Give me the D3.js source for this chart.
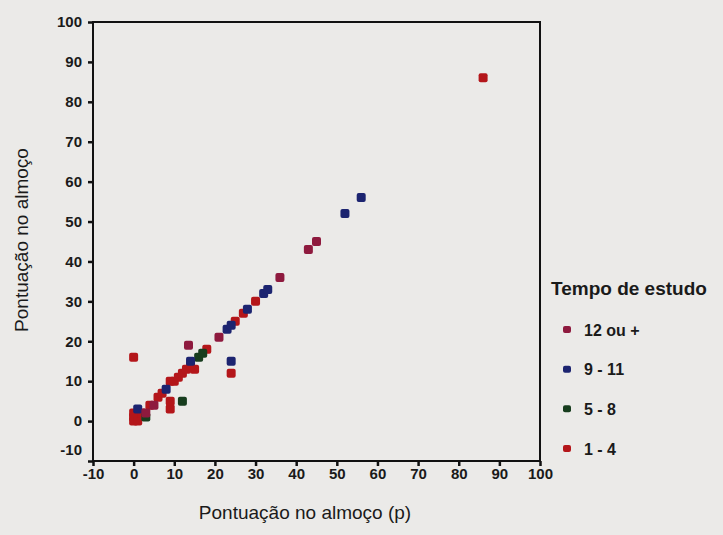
<!DOCTYPE html>
<html>
<head>
<meta charset="utf-8">
<script src="https://cdn.jsdelivr.net/npm/d3@7"></script>
<style>
  body { margin: 0; background: #ebeae8; }
  svg { display: block; font-family: "Liberation Sans", Arial, sans-serif; }
</style>
</head>
<body>
<div id="chart"></div>
<script>
// legend categories
const SERIES = ["12 ou +", "9 - 11", "5 - 8", "1 - 4"];
const COLORS = ["#8e1a3e", "#1c2470", "#173d1e", "#b4161a"];

// points per group (x = p, y = score)
const X_12 = [21, 13.5, 36, 43, 45, 5, 3];
const Y_12 = [21, 19, 36, 43, 45, 4, 2];

const X_9 = [1, 8, 14, 23, 24, 28, 32, 33, 24, 52, 56];
const Y_9 = [3, 8, 15, 23, 24, 28, 32, 33, 15, 52, 56];

const X_5 = [3, 12, 16, 17];
const Y_5 = [1, 5, 16, 17];

const X_1 = [0, 0, 1, 0, 2, 4, 6, 7, 9, 10, 11, 12, 13, 15, 14, 18, 25, 27, 30, 24, 0, 9, 9, 86];
const Y_1 = [0, 1, 0, 2, 2, 4, 6, 7, 10, 10, 11, 12, 13, 13, 14, 18, 25, 27, 30, 12, 16, 3, 5, 86];

// tick values
const X_TICKS = [-10, 0, 10, 20, 30, 40, 50, 60, 70, 80, 90, 100];
const Y_TICKS = [-10, 0, 10, 20, 30, 40, 50, 60, 70, 80, 90, 100];

// frame
const FRAME_WIDTH = 723;
const FRAME_HEIGHT = 535;
const MARGINS = {left: 93, right: 183, top: 22, bottom: 74};
const VIS_WIDTH = FRAME_WIDTH - MARGINS.left - MARGINS.right;
const VIS_HEIGHT = FRAME_HEIGHT - MARGINS.top - MARGINS.bottom;

const FRAME = d3.select("#chart")
  .append("svg")
    .attr("width", FRAME_WIDTH)
    .attr("height", FRAME_HEIGHT);

const X_SCALE = d3.scaleLinear().domain([-10, 100]).range([0, VIS_WIDTH]);
const Y_SCALE = d3.scaleLinear().domain([-10, 100]).range([VIS_HEIGHT, 0]);

const PLOT = FRAME.append("g")
  .attr("transform", "translate(" + MARGINS.left + "," + MARGINS.top + ")");

// plain hyphen for negatives, like the printed chart
const fmt = (d) => String(d);

// axes
const xAxis = PLOT.append("g")
  .attr("transform", "translate(0," + VIS_HEIGHT + ")")
  .call(d3.axisBottom(X_SCALE).tickValues(X_TICKS).tickFormat(fmt).tickSize(5).tickPadding(2));

const yAxis = PLOT.append("g")
  .call(d3.axisLeft(Y_SCALE).tickValues(Y_TICKS).tickFormat(fmt).tickSize(5).tickPadding(6));

[xAxis, yAxis].forEach((ax) => {
  ax.select(".domain").remove();
  ax.selectAll(".tick line").attr("stroke", "#111").attr("stroke-width", 2.5);
  ax.selectAll(".tick text")
    .attr("fill", "#1a1a1a")
    .attr("font-size", "15px")
    .attr("font-weight", "bold")
    .attr("font-family", "'Liberation Sans', Arial, sans-serif");
});

// -10 on y axis sits a bit above the corner
yAxis.selectAll(".tick text").filter((d) => d === -10).attr("dy", "-0.45em");

// box
PLOT.append("rect")
  .attr("x", 0).attr("y", 0)
  .attr("width", VIS_WIDTH).attr("height", VIS_HEIGHT)
  .attr("fill", "none")
  .attr("stroke", "#111")
  .attr("stroke-width", 2);

// points
const groups = [
  {name: SERIES[0], xs: X_12, ys: Y_12, color: COLORS[0]},
  {name: SERIES[1], xs: X_9, ys: Y_9, color: COLORS[1]},
  {name: SERIES[2], xs: X_5, ys: Y_5, color: COLORS[2]},
  {name: SERIES[3], xs: X_1, ys: Y_1, color: COLORS[3]}
];

const MS = 9;
// draw in reverse so the 12 ou + group sits on top like the original
groups.slice().reverse().forEach((g) => {
  PLOT.selectAll(null)
    .data(g.xs.map((x, i) => ({x: x, y: g.ys[i]})))
    .enter()
    .append("rect")
      .attr("x", (d) => X_SCALE(d.x) - MS / 2)
      .attr("y", (d) => Y_SCALE(d.y) - MS / 2)
      .attr("width", MS)
      .attr("height", MS)
      .attr("rx", 2)
      .attr("fill", g.color);
});

// axis titles
FRAME.append("text")
  .attr("x", 305)
  .attr("y", 519)
  .attr("text-anchor", "middle")
  .attr("font-size", "19px")
  .attr("fill", "#1a1a1a")
  .text("Pontuação no almoço (p)");

FRAME.append("text")
  .attr("transform", "translate(28,240) rotate(-90)")
  .attr("text-anchor", "middle")
  .attr("font-size", "19px")
  .attr("fill", "#1a1a1a")
  .text("Pontuação no almoço");

// legend
const LEGEND = FRAME.append("g").attr("transform", "translate(551,0)");

LEGEND.append("text")
  .attr("x", 0)
  .attr("y", 295)
  .attr("font-size", "19px")
  .attr("font-weight", "bold")
  .attr("fill", "#1a1a1a")
  .text("Tempo de estudo");

const LEG_Y = d3.scalePoint().domain(SERIES).range([330, 449]);

LEGEND.selectAll("rect.leg")
  .data(SERIES)
  .enter()
  .append("rect")
    .attr("class", "leg")
    .attr("x", 12)
    .attr("y", (d) => LEG_Y(d) - 4)
    .attr("width", 8)
    .attr("height", 7)
    .attr("rx", 2)
    .attr("fill", (d, i) => COLORS[i]);

LEGEND.selectAll("text.leg")
  .data(SERIES)
  .enter()
  .append("text")
    .attr("class", "leg")
    .attr("x", 33)
    .attr("y", (d) => LEG_Y(d))
    .attr("dy", "0.36em")
    .attr("font-size", "16px")
    .attr("font-weight", "bold")
    .attr("fill", "#1a1a1a")
    .text((d) => d);
</script>
</body>
</html>
